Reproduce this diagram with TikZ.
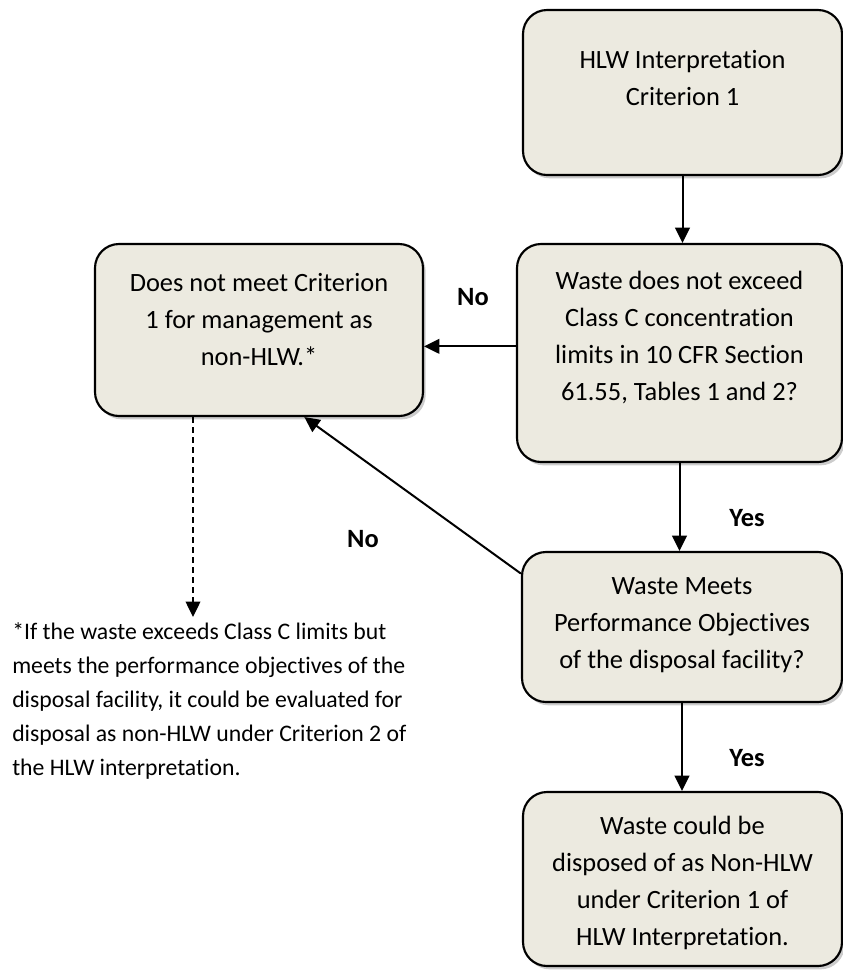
\documentclass[tikz,border=0pt]{standalone}
\usepackage{fontspec}
\setmainfont{Carlito}[RawFeature={-liga;-clig;-calt;-dlig}]
\usetikzlibrary{arrows.meta,shadows}
\definecolor{Paper}{RGB}{236,234,224}
\tikzstyle{stage}=[draw,black,line width=1.6pt,rounded corners=18pt,fill=Paper,inner sep=0pt,
  drop shadow={shadow xshift=2pt,shadow yshift=-2.5pt,opacity=0.4}]
\tikzstyle{words}=[align=center,font=\fontsize{19.8}{27.75}\selectfont]
\tikzstyle{answer}=[font=\bfseries\fontsize{19.8}{24}\selectfont]
\tikzstyle{noteword}=[align=left,inner xsep=0pt,inner ysep=4pt,font=\fontsize{17.8}{25.5}\selectfont]
\tikzstyle{flow}=[line width=1.5pt,-{Triangle[length=11.5pt,width=11pt]}]

\begin{document}
\begin{tikzpicture}[x=0.75pt,y=-0.75pt]
\useasboundingbox (0,0) rectangle (843,976);
% boxes
\foreach \name/\place/\w/\h in
  {b1/{(682.5,92.5)}/239.25/123.75, b2/{(679.5,353)}/243.75/163.5,
   b3/{(259,330)}/246/129, b4/{(682,627)}/240/112.5, b5/{(682.5,879)}/239.25/130.5}
    \node[stage,minimum width=\w pt,minimum height=\h pt] (\name) at \place {};
% texts in the boxes
\node[words] (t1) at (682.5,78) {HLW Interpretation\\Criterion 1};
\node[words] (t2) at (679.5,338) {Waste does not exceed\\Class C concentration\\limits in 10 CFR Section\\61.55, Tables 1 and 2?};
\node[words] (t3) at (259,320) {Does not meet Criterion\\1 for management as\\non-HLW.*};
\node[words] (t4) at (682,625) {Waste Meets\\Performance Objectives\\of the disposal facility?};
\node[words] (t5) at (682.5,883) {Waste could be\\disposed of as Non-HLW\\under Criterion 1 of\\HLW Interpretation.};
% footnote
\node[noteword,anchor=north west] (note) at (12,617)
  {*If the waste exceeds Class C limits but\\meets the performance objectives of the\\disposal facility, it could be evaluated for\\disposal as non-HLW under Criterion 2 of\\the HLW interpretation.};
% answers
\node[answer] (no1) at (473,297) {No};
\node[answer] (no2) at (363,539) {No};
\node[answer] (yes1) at (747,518) {Yes};
\node[answer] (yes2) at (747,758) {Yes};
% arrows
\draw[flow] (b1.south) -- (b1.south |- b2.north);
\draw[flow] (b2.south) -- (b2.south |- b4.north);
\draw[flow] (b4.south) -- (b4.south |- b5.north);
\draw[flow] ([yshift=5pt]b2.west) -- ([yshift=5pt]b2.west -| b3.east);
\draw[flow] ([yshift=-17pt]b4.north west) -- ([xshift=34pt]b3.south);
\draw[flow,line width=1pt,dash pattern=on 4.5pt off 3pt] ([xshift=-49.5pt]b3.south) -- ([xshift=-49.5pt]b3.south |- note.north);
\end{tikzpicture}
\end{document}
